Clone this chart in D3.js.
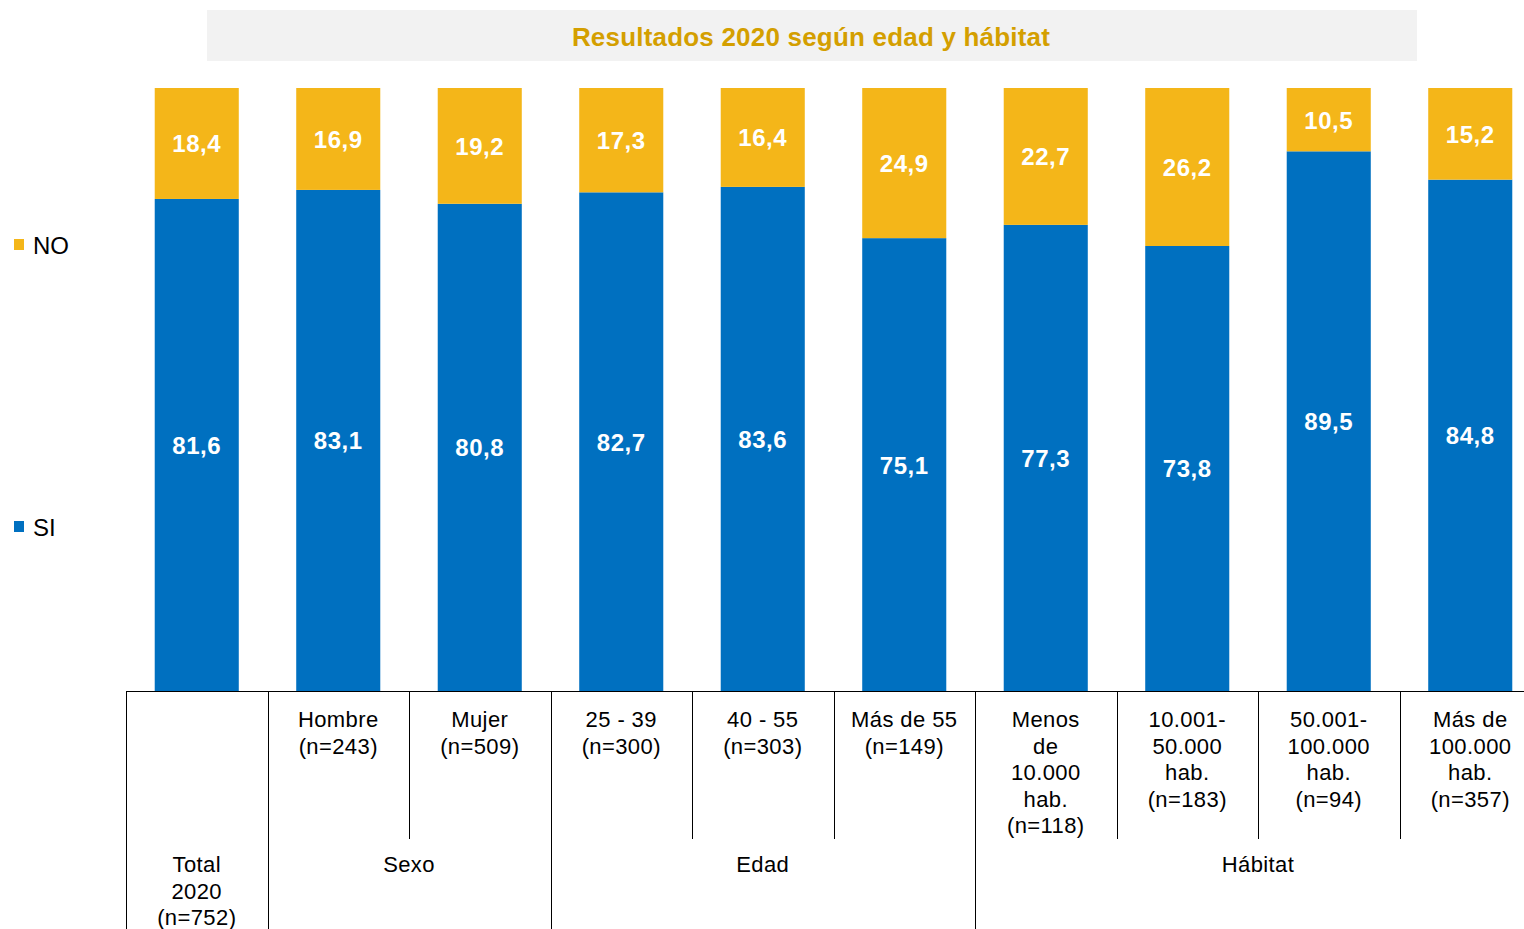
<!DOCTYPE html>
<html>
<head>
<meta charset="utf-8">
<script src="https://cdn.jsdelivr.net/npm/d3@7"></script>
<style>
  body { margin: 0; background: #fff; }
  text { font-family: "Liberation Sans", Arial, sans-serif; }
</style>
</head>
<body>
<div id="chart"></div>
<script>
// data
var categories = ["Total", "Hombre", "Mujer", "25-39", "40-55", "Mas55", "Menos10000", "10001-50000", "50001-100000", "Mas100000"];
var catLabels = [
  [],
  ["Hombre", "(n=243)"],
  ["Mujer", "(n=509)"],
  ["25 - 39", "(n=300)"],
  ["40 - 55", "(n=303)"],
  ["Más de 55", "(n=149)"],
  ["Menos", "de", "10.000", "hab.", "(n=118)"],
  ["10.001-", "50.000", "hab.", "(n=183)"],
  ["50.001-", "100.000", "hab.", "(n=94)"],
  ["Más de", "100.000", "hab.", "(n=357)"]
];
var siValues = [81.6, 83.1, 80.8, 82.7, 83.6, 75.1, 77.3, 73.8, 89.5, 84.8];
var noValues = [18.4, 16.9, 19.2, 17.3, 16.4, 24.9, 22.7, 26.2, 10.5, 15.2];
var groupNames = [["Total", "2020", "(n=752)"], ["Sexo"], ["Edad"], ["Hábitat"]];
var groupFirst = [0, 1, 3, 6];
var groupLast = [0, 2, 5, 9];
var seriesNames = ["NO", "SI"];

var w = 1524, h = 929;
var colors = {SI: "#0070C0", NO: "#F4B619"};

var svg = d3.select("#chart").append("svg")
            .attr("width", w)
            .attr("height", h);

// scales
var x = d3.scaleBand()
          .domain(categories)
          .range([126, 1541])
          .paddingInner(0.406)
          .paddingOuter(0.203);
var y = d3.scaleLinear().domain([0, 100]).range([691, 88]);

// title box
svg.append("rect")
   .attr("x", 207).attr("y", 10)
   .attr("width", 1210).attr("height", 51)
   .attr("fill", "#f2f2f2");
svg.append("text")
   .attr("x", 811).attr("y", 46)
   .attr("text-anchor", "middle")
   .attr("font-size", 26)
   .attr("font-weight", "bold")
   .attr("letter-spacing", 0.2)
   .attr("fill", "#D49F00")
   .text("Resultados 2020 según edad y hábitat");

// stacked data
var rows = categories.map(function(c, i){ return {cat: c, SI: siValues[i], NO: noValues[i]}; });
var stack = d3.stack().keys(["SI", "NO"]);
var layers = stack(rows);

var fmt = function(v){ return v.toFixed(1).replace(".", ","); };

layers.forEach(function(layer){
  var g = svg.append("g");
  g.selectAll("rect")
   .data(layer)
   .enter()
   .append("rect")
   .attr("x", function(d){ return x(d.data.cat); })
   .attr("y", function(d){ return y(d[1]); })
   .attr("width", x.bandwidth())
   .attr("height", function(d){ return y(d[0]) - y(d[1]); })
   .attr("fill", colors[layer.key]);

  g.selectAll("text")
   .data(layer)
   .enter()
   .append("text")
   .attr("x", function(d){ return x(d.data.cat) + x.bandwidth()/2; })
   .attr("y", function(d){ return (y(d[0]) + y(d[1]))/2 + 9; })
   .attr("text-anchor", "middle")
   .attr("font-size", 24)
   .attr("font-weight", "bold")
   .attr("letter-spacing", 0.6)
   .attr("fill", "#fff")
   .text(function(d){ return fmt(d.data[layer.key]); });
});

// legend
var legendY = {NO: 245, SI: 527};
seriesNames.forEach(function(s){
  svg.append("rect")
     .attr("x", 14).attr("y", legendY[s] - 6)
     .attr("width", 10).attr("height", 11)
     .attr("fill", colors[s]);
  svg.append("text")
     .attr("x", 33).attr("y", legendY[s] + 9)
     .attr("font-size", 24)
     .attr("fill", "#000")
     .text(s);
});

// category axis (table style)
var axisG = svg.append("g").attr("stroke", "#000").attr("stroke-width", 1);
axisG.append("line")
     .attr("x1", 126).attr("x2", w)
     .attr("y1", 691.5).attr("y2", 691.5);

var step = x.step();
var leftEdge = function(i){ return Math.round(x(categories[i]) - x.paddingInner()*step/2) + 0.5; };

categories.forEach(function(c, i){
  var isGroupStart = groupFirst.indexOf(i) >= 0;
  axisG.append("line")
       .attr("x1", leftEdge(i)).attr("x2", leftEdge(i))
       .attr("y1", 691).attr("y2", isGroupStart ? h : 839);
});

var lineH = 26.5;
categories.forEach(function(c, i){
  var t = svg.append("text")
             .attr("text-anchor", "middle")
             .attr("font-size", 22)
             .attr("letter-spacing", 0.4)
             .attr("fill", "#000");
  catLabels[i].forEach(function(line, j){
    t.append("tspan")
     .attr("x", x(c) + x.bandwidth()/2)
     .attr("y", 727 + j*lineH)
     .text(line);
  });
});

groupNames.forEach(function(lines, gi){
  var x0 = x(categories[groupFirst[gi]]);
  var x1 = x(categories[groupLast[gi]]) + x.bandwidth();
  var t = svg.append("text")
             .attr("text-anchor", "middle")
             .attr("font-size", 22)
             .attr("letter-spacing", 0.4)
             .attr("fill", "#000");
  lines.forEach(function(line, j){
    t.append("tspan")
     .attr("x", (x0 + x1)/2)
     .attr("y", 872 + j*lineH)
     .text(line);
  });
});
</script>
</body>
</html>
